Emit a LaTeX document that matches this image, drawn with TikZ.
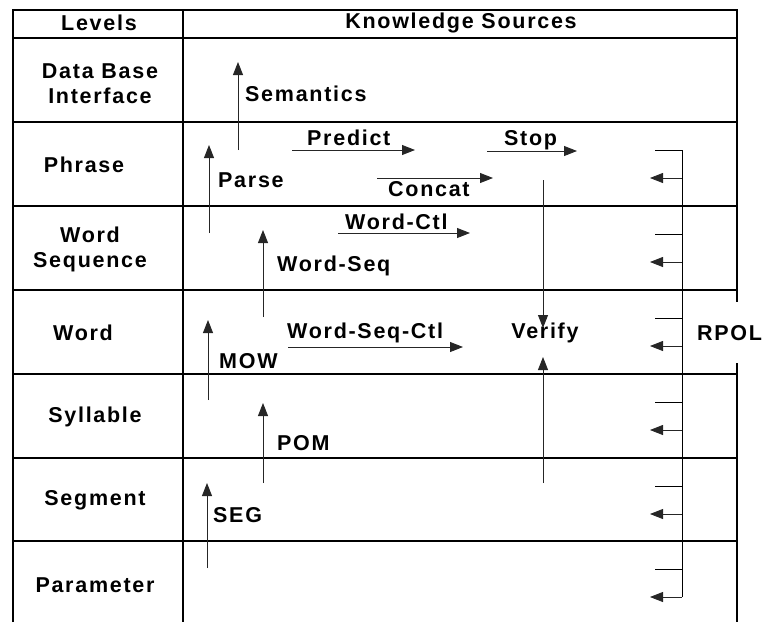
\documentclass[tikz,border=0pt]{standalone}
\usepackage{fontspec}
\setmainfont[LetterSpace=8]{Liberation Sans}
\usetikzlibrary{arrows.meta}

\tikzset{
  rule/.style={line width=1.6pt},
  lvl/.style={font=\fontsize{21.5}{25}\selectfont\bfseries, align=center, inner sep=0pt},
  ks/.style={font=\fontsize{21.5}{25}\selectfont\bfseries, inner sep=0pt, anchor=base west},
  ksarrow/.style={line width=0.9pt, -{Triangle[length=13pt,width=10pt]}, black!85},
  rpolline/.style={line width=0.8pt},
}

\begin{document}
\begin{tikzpicture}[x=1pt, y=-1pt]
    \useasboundingbox (0,0) rectangle (762,622);

    % table
    \draw[rule] (13,622) -- (13,10) -- (737,10) -- (737,302);
    \draw[rule] (737,363) -- (737,622);
    \draw[rule] (183,10) -- (183,622);
    \foreach \y in {38,122,206,290,374,458,541}
             {
               \draw[rule] (13,\y) -- (737,\y);
             }

    \node[lvl] (levels) at (99,23) {Levels};
    \node[lvl] (sources) at (461,23) {Knowledge Sources};
    \node[lvl] (dbi) at (100,84) {Data Base\\Interface};
    \node[lvl] (phrase) at (84,165) {Phrase};
    \node[lvl] (wordseq) at (90,249) {Word\\Sequence};
    \node[lvl] (word) at (83,333) {Word};
    \node[lvl] (syllable) at (95,417) {Syllable};
    \node[lvl] (segment) at (95,500) {Segment};
    \node[lvl] (parameter) at (95,585) {Parameter};

    % upward sources
    \foreach \x/\ya/\yb/\n in {238/150/62/sem, 209/233/145/parse, 263/317/230/wseq,
                               208/400/320/mow, 263/483/403/pom, 207/568/483/seg}
             {
               \coordinate (\n-a) at (\x,\ya);
               \coordinate (\n-b) at (\x,\yb);
               \draw[ksarrow] (\n-a) -- (\n-b);
             }
    \node[ks] (semantics) at (245,101) {Semantics};
    \node[ks] (parselbl) at (218,187) {Parse};
    \node[ks] (wseqlbl) at (277,271) {Word-Seq};
    \node[ks] (mowlbl) at (219,368) {MOW};
    \node[ks] (pomlbl) at (277,450) {POM};
    \node[ks] (seglbl) at (213,522) {SEG};

    % sideways sources
    \foreach \xa/\xb/\y/\n in {292/415/150/pred, 487/577/151/stop, 377/493/178/cat,
                               338/470/233/wctl, 288/463/347/wsctl}
             {
               \coordinate (\n-a) at (\xa,\y);
               \coordinate (\n-b) at (\xb,\y);
               \draw[ksarrow] (\n-a) -- (\n-b);
             }
    \node[ks] (predict) at (307,145) {Predict};
    \node[ks] (stoplbl) at (504,145) {Stop};
    \node[ks] (concat) at (388,196) {Concat};
    \node[ks] (wctllbl) at (345,229) {Word-Ctl};
    \node[ks] (wsctllbl) at (287,338) {Word-Seq-Ctl};

    % verify
    \node[ks, anchor=base] (verify) at (545,338) {Verify};
    \coordinate (ver-top) at (543,180);
    \coordinate (ver-in) at (543,328);
    \coordinate (ver-bot) at (543,483);
    \coordinate (ver-out) at (543,357);
    \draw[ksarrow] (ver-top) -- (ver-in);
    \draw[ksarrow] (ver-bot) -- (ver-out);

    % rpol
    \coordinate (rpol-top) at (682,150);
    \coordinate (rpol-bot) at (682,597);
    \draw[rpolline] (rpol-top) -- (rpol-bot);
    \foreach \y in {122,206,290,374,458,541}
             {
               \coordinate (in\y) at (655,\y+28);
               \coordinate (on\y) at (682,\y+28);
               \coordinate (off\y) at (682,\y+56);
               \coordinate (out\y) at (650,\y+56);
               \draw[rpolline] (in\y) -- (on\y);
               \draw[ksarrow, line width=0.8pt] (off\y) -- (out\y);
             }
    \node[ks, anchor=west] (rpol) at (697,333) {RPOL};

  \end{tikzpicture}
\end{document}
